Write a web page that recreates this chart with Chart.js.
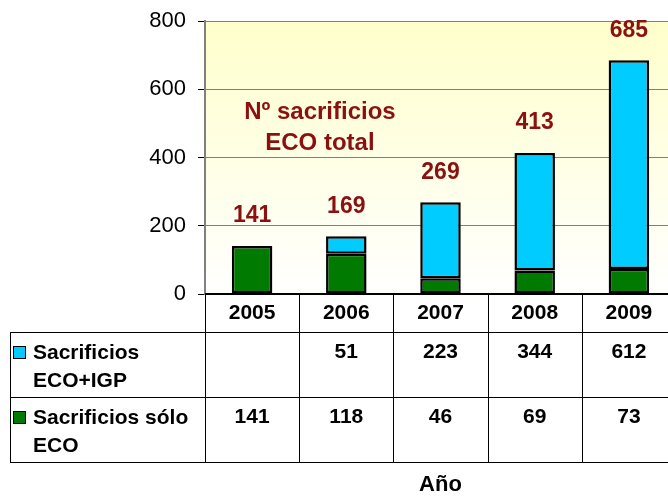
<!DOCTYPE html>
<html>
<head>
<meta charset="utf-8">
<script src="https://cdn.jsdelivr.net/npm/chart.js@4"></script>
<style>
body{margin:0;overflow:hidden;background:#fff}
</style>
</head>
<body>
<canvas id="chart" width="680" height="497"></canvas>
<script>
const years=['2005','2006','2007','2008','2009'];
const soloEco=[141,118,46,69,73];
const ecoIgp=[null,51,223,344,612];
const totals=[141,169,269,413,685];
const rowNames=[['Sacrificios','ECO+IGP'],['Sacrificios sólo','ECO']];
const noteLines=['Nº sacrificios','ECO total'];
const axisTitle='Año';

const FONT='"Liberation Sans", Arial, sans-serif';
const RED='#8b1111';
const CYAN='#00ccff';
const GREEN='#007a00';

function line(ctx,x1,y1,x2,y2){
    ctx.beginPath();
    ctx.moveTo(x1,y1);
    ctx.lineTo(x2,y2);
    ctx.stroke();
}

const extras={
    id:'extras',
    beforeDraw(chart){
        const {ctx,chartArea:a}=chart;
        const g=ctx.createLinearGradient(0,a.top,0,a.bottom);
        g.addColorStop(0,'#ffffcc');
        g.addColorStop(1,'#ffffff');
        ctx.save();
        ctx.fillStyle=g;
        ctx.fillRect(a.left,a.top,a.right-a.left,a.bottom-a.top);
        ctx.restore();
    },
    afterDatasetsDraw(chart){
        const {ctx,scales:{x,y}}=chart;
        ctx.save();
        ctx.fillStyle=RED;
        ctx.font='bold 23px '+FONT;
        ctx.textAlign='center';
        ctx.textBaseline='middle';
        totals.forEach((t,i)=>{
            ctx.fillText(String(t),x.getPixelForValue(i),y.getPixelForValue(t)-30);
        });
        const step=x.getPixelForValue(1)-x.getPixelForValue(0);
        const nx=x.getPixelForValue(0)+step*0.72;
        ctx.font='bold 24px '+FONT;
        ctx.fillText(noteLines[0],nx,y.getPixelForValue(533));
        ctx.fillText(noteLines[1],nx,y.getPixelForValue(442));
        ctx.restore();
    },
    afterDraw(chart){
        const {ctx,chartArea:a,scales:{x}}=chart;
        const step=x.getPixelForValue(1)-x.getPixelForValue(0);
        const left=10;
        const top=a.bottom;
        const hdr=top+38;
        const r1=hdr+65;
        const r2=r1+65;
        const right=a.left+step*years.length;
        ctx.save();
        ctx.strokeStyle='#000';
        ctx.lineWidth=2;
        line(ctx,a.left,top,right,top);
        ctx.lineWidth=1;
        [hdr,r1,r2].forEach(yy=>line(ctx,left,yy+0.5,right,yy+0.5));
        for(let i=0;i<=years.length;i++){
            const xx=Math.round(a.left+i*step)+0.5;
            line(ctx,xx,top,xx,r2);
        }
        line(ctx,left+0.5,hdr,left+0.5,r2);

        ctx.fillStyle='#000';
        ctx.font='bold 21px '+FONT;
        ctx.textAlign='center';
        ctx.textBaseline='middle';
        years.forEach((yr,i)=>ctx.fillText(yr,x.getPixelForValue(i),top+19));

        const rows=[[ecoIgp,CYAN,hdr],[soloEco,GREEN,r1]];
        rows.forEach(([vals,col,rt],k)=>{
            ctx.textAlign='center';
            vals.forEach((v,i)=>{
                if(v!==null) ctx.fillText(String(v),x.getPixelForValue(i),rt+20);
            });
            ctx.fillStyle=col;
            ctx.fillRect(13,rt+14,13,13);
            ctx.strokeRect(13.5,rt+14.5,12,12);
            ctx.fillStyle='#000';
            ctx.textAlign='left';
            ctx.fillText(rowNames[k][0],33,rt+21);
            ctx.fillText(rowNames[k][1],33,rt+49);
        });

        ctx.textAlign='center';
        ctx.font='bold 22px '+FONT;
        ctx.fillText(axisTitle,(a.left+right)/2,485);
        ctx.restore();
    }
};

new Chart(document.getElementById('chart'),{
    type:'bar',
    data:{
        labels:years,
        datasets:[{
            label:'Sacrificios sólo ECO',
            data:soloEco,
            backgroundColor:GREEN,
            borderColor:'#000',
            borderWidth:2.5,
            borderSkipped:false
        },{
            label:'Sacrificios ECO+IGP',
            data:ecoIgp,
            backgroundColor:CYAN,
            borderColor:'#000',
            borderWidth:2.5,
            borderSkipped:false
        }]
    },
    options:{
        responsive:false,
        animation:false,
        layout:{padding:{left:0,right:4,top:21,bottom:203}},
        datasets:{bar:{categoryPercentage:1,barPercentage:0.43}},
        plugins:{legend:{display:false},tooltip:{enabled:false}},
        scales:{
            x:{stacked:true,display:false},
            y:{
                stacked:true,
                min:0,max:800,
                afterFit(axis){axis.width=205;axis.paddingTop=0;axis.paddingBottom=0;},
                ticks:{stepSize:200,padding:12,color:'#000',font:{family:FONT,size:22}},
                grid:{color:'#808080',tickColor:'#000',tickLength:7},
                border:{color:'#808080',width:2}
            }
        }
    },
    plugins:[extras]
});
</script>
</body>
</html>
